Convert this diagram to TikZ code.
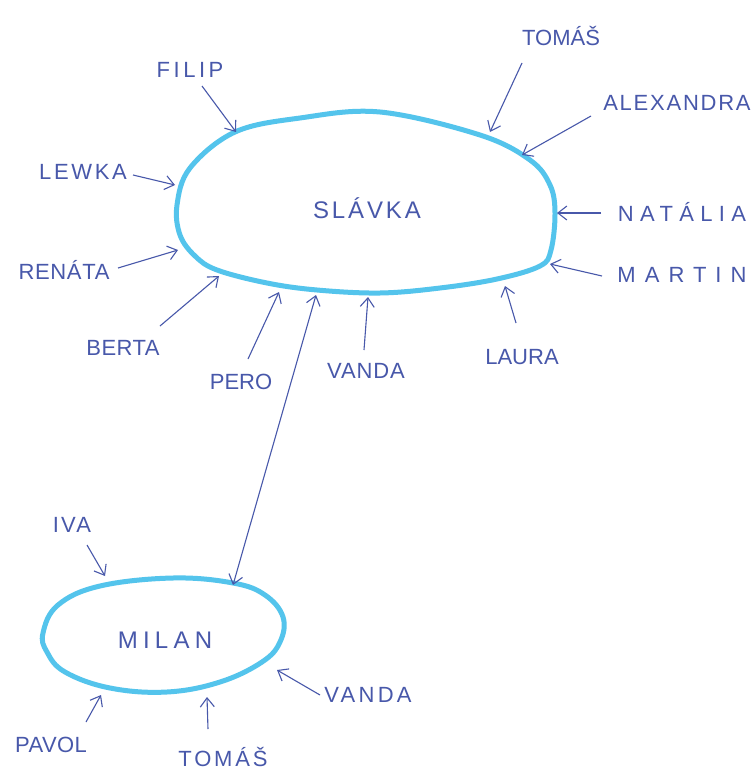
\documentclass[tikz,border=0pt]{standalone}
\usepackage{fontspec}
\setmainfont{Liberation Sans}
\usetikzlibrary{arrows.meta}
\definecolor{ink}{RGB}{72,88,170}
\definecolor{marker}{RGB}{84,196,236}
\newcommand\spaced[2]{{\addfontfeature{LetterSpace=#1}#2}}
\tikzset{
  lbl/.style={font=\fontsize{22}{24}\selectfont, text=ink, inner sep=4pt},
  big/.style={font=\fontsize{24}{26}\selectfont, text=ink},
  link/.style={draw=ink, line width=1.1pt, -{Straight Barb[length=9pt,width=14pt]}},
  dlink/.style={draw=ink, line width=1.1pt, {Straight Barb[length=9pt,width=14pt]}-{Straight Barb[length=9pt,width=14pt]}},
  blob/.style={draw=marker, line width=5pt, line join=round}
}
\begin{document}
\begin{tikzpicture}[x=1pt,y=-1pt]
\useasboundingbox[fill=white] (0,0) rectangle (755,776);
% big ellipse
\draw[blob] plot[smooth cycle, tension=0.6] coordinates {
 (177,205) (190,168) (235,132) (300,118) (380,112) (480,135) (530,160) (550,185)
 (555,213) (551,250) (540,266) (497,279) (440,288) (380,293) (317,290) (267,283)
 (217,270) (195,256) (180,235)};
% small ellipse
\draw[blob] plot[smooth cycle, tension=0.65] coordinates {
 (43,633) (58,605) (100,586) (173,578) (233,583) (265,595) (283,617) (280,642)
 (262,662) (220,682) (167,692) (110,688) (65,672) (47,652)};
\node[big] (slavka) at (367,208) {\spaced{12}{SLÁVKA}};
\node[big] (milan) at (165,640) {\spaced{22}{MILAN}};
% labels
\node[lbl] (filip) at (190,70) {\spaced{16}{FILIP}};
\node[lbl] (lewka) at (83,172) {\spaced{12}{LEWKA}};
\node[lbl] (renata) at (64,270) {\spaced{3}{RENÁTA}};
\node[lbl] (berta) at (123,348) {\spaced{2}{BERTA}};
\node[lbl] (pero) at (241,382) {PERO};
\node[lbl] (vanda1) at (366,371) {\spaced{4}{VANDA}};
\node[lbl] (laura) at (522,357) {LAURA};
\node[lbl] (martin) at (682,275) {\spaced{41}{MARTIN}};
\node[lbl] (natalia) at (682,212) {\spaced{29}{NATÁLIA}};
\node[lbl] (alexandra) at (677,103) {\spaced{8}{ALEXANDRA}};
\node[lbl] (tomas1) at (561,36) {TOMÁŠ};
\node[lbl] (iva) at (72,525) {\spaced{10}{IVA}};
\node[lbl] (pavol) at (51,745) {\spaced{2}{PAVOL}};
\node[lbl] (tomas2) at (223,757) {\spaced{13}{TOMÁŠ}};
\node[lbl] (vanda2) at (368,695) {\spaced{15}{VANDA}};
% tips
\coordinate (tFilip) at (236,132);
\coordinate (tLewka) at (175,185);
\coordinate (tRenata) at (178,250);
\coordinate (tBerta) at (219,276);
\coordinate (tPero) at (279,292);
\coordinate (tVanda1) at (368,297);
\coordinate (tLaura) at (505,286);
\coordinate (tMartin) at (550,264);
\coordinate (tNatalia) at (557,213);
\coordinate (tAlex) at (522,155);
\coordinate (tTomas1) at (490,132);
\coordinate (tIva) at (105,576);
\coordinate (tPavol) at (101,695);
\coordinate (tTomas2) at (207,697);
\coordinate (tVanda2) at (277,670);
\coordinate (upEnd) at (316,295);
\coordinate (downEnd) at (233,585);
% tails
\coordinate (sFilip) at (202,86);
\coordinate (sLewka) at (133,175);
\coordinate (sRenata) at (118,268);
\coordinate (sBerta) at (160,326);
\coordinate (sPero) at (248,359);
\coordinate (sVanda1) at (364,350);
\coordinate (sLaura) at (516,323);
\coordinate (sMartin) at (602,276);
\coordinate (sNatalia) at (601,213);
\coordinate (sAlex) at (591,116);
\coordinate (sTomas1) at (522,63);
\coordinate (sIva) at (87,545);
\coordinate (sPavol) at (86,722);
\coordinate (sTomas2) at (208,729);
\coordinate (sVanda2) at (320,695);
\draw[link] (sFilip) -- (tFilip);
\draw[link] (sLewka) -- (tLewka);
\draw[link] (sRenata) -- (tRenata);
\draw[link] (sBerta) -- (tBerta);
\draw[link] (sPero) -- (tPero);
\draw[link] (sVanda1) -- (tVanda1);
\draw[link] (sLaura) -- (tLaura);
\draw[link] (sMartin) -- (tMartin);
\draw[link] (sNatalia) -- (tNatalia);
\draw[link] (sAlex) -- (tAlex);
\draw[link] (sTomas1) -- (tTomas1);
\draw[link] (sIva) -- (tIva);
\draw[link] (sPavol) -- (tPavol);
\draw[link] (sTomas2) -- (tTomas2);
\draw[link] (sVanda2) -- (tVanda2);
\draw[dlink] (downEnd) -- (upEnd);
\end{tikzpicture}
\end{document}
